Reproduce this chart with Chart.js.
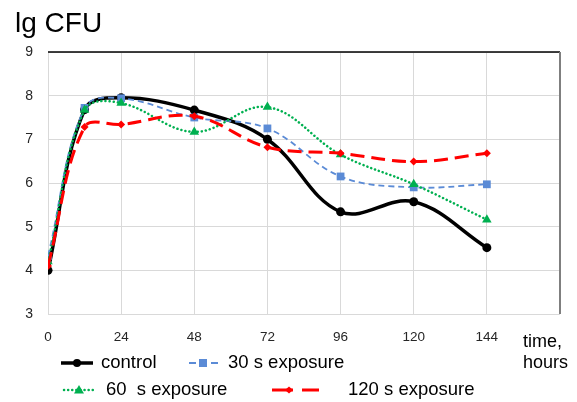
<!DOCTYPE html>
<html>
<head>
<meta charset="utf-8">
<script src="https://cdn.jsdelivr.net/npm/chart.js@4/dist/chart.umd.min.js"></script>
<style>
html,body{margin:0;padding:0;background:#fff;}
#wrap{position:relative;width:577px;height:402px;}
canvas{display:block;}
</style>
</head>
<body>
<div id="wrap"><canvas id="c" width="577" height="402"></canvas></div>
<script>
const hours = [0, 12, 24, 48, 72, 96, 120, 144];
const control = [4.0, 7.68, 7.95, 7.67, 7.0, 5.34, 5.57, 4.52];
const exp30 = [4.33, 7.72, 7.94, 7.5, 7.25, 6.15, 5.9, 5.97];
const exp60 = [4.2, 7.67, 7.83, 7.17, 7.74, 6.65, 5.97, 5.16];
const exp120 = [4.1, 7.28, 7.34, 7.53, 6.82, 6.68, 6.49, 6.68];
const xTicks = [0, 24, 48, 72, 96, 120, 144];
const yTicks = [3, 4, 5, 6, 7, 8, 9];
const seriesNames = ['control', '30 s exposure', '60  s exposure', '120 s exposure'];
const yTitle = 'lg CFU';
const xTitle = ['time,', 'hours'];

const FONT = '"Liberation Sans", Arial, sans-serif';
const toPts = arr => hours.map((h, i) => ({x: h, y: arr[i]}));

const extras = {
  id: 'extras',
  afterDraw(chart) {
    const ctx = chart.ctx;
    const a = chart.chartArea;
    ctx.save();
    ctx.strokeStyle = '#000';
    ctx.lineWidth = 1.5;
    ctx.beginPath(); ctx.moveTo(a.left, a.top); ctx.lineTo(a.right, a.top); ctx.stroke();
    ctx.strokeStyle = '#7f7f7f';
    ctx.lineWidth = 2;
    ctx.beginPath(); ctx.moveTo(a.right, a.top); ctx.lineTo(a.right, a.bottom); ctx.stroke();

    ctx.fillStyle = '#000';
    ctx.textBaseline = 'alphabetic';
    ctx.textAlign = 'left';
    ctx.font = '28px ' + FONT;
    ctx.fillText(yTitle, 15, 32);
    ctx.textBaseline = 'middle';
    ctx.font = '18px ' + FONT;
    ctx.fillText(xTitle[0], 523, 342);
    ctx.fillText(xTitle[1], 523, 363);

    const ds = chart.data.datasets;
    ctx.font = '18.5px ' + FONT;
    let y = 363;
    ctx.setLineDash([]);
    ctx.strokeStyle = ds[0].borderColor; ctx.lineWidth = 3.5; ctx.lineCap = 'butt';
    ctx.beginPath(); ctx.moveTo(61, y); ctx.lineTo(93, y); ctx.stroke();
    ctx.fillStyle = ds[0].borderColor;
    ctx.beginPath(); ctx.arc(77, y, 4, 0, Math.PI * 2); ctx.fill();
    ctx.fillStyle = '#000';
    ctx.fillText(ds[0].label, 101, y);
    ctx.strokeStyle = ds[1].borderColor; ctx.lineWidth = 1.8;
    ctx.beginPath(); ctx.moveTo(189, y); ctx.lineTo(196, y); ctx.moveTo(211, y); ctx.lineTo(218, y); ctx.stroke();
    ctx.fillStyle = ds[1].borderColor;
    ctx.fillRect(199, y - 4, 8, 8);
    ctx.fillStyle = '#000';
    ctx.fillText(ds[1].label, 228, y);
    y = 390;
    ctx.strokeStyle = ds[2].borderColor; ctx.lineWidth = 2.5; ctx.lineCap = 'round';
    ctx.setLineDash([0.1, 4]);
    ctx.beginPath(); ctx.moveTo(64, y); ctx.lineTo(94, y); ctx.stroke();
    ctx.setLineDash([]); ctx.lineCap = 'butt';
    ctx.fillStyle = ds[2].borderColor;
    ctx.beginPath(); ctx.moveTo(79, y - 5); ctx.lineTo(84, y + 3.5); ctx.lineTo(74, y + 3.5); ctx.closePath(); ctx.fill();
    ctx.fillStyle = '#000';
    ctx.fillText(ds[2].label, 106, y);
    ctx.strokeStyle = ds[3].borderColor; ctx.lineWidth = 3;
    ctx.beginPath(); ctx.moveTo(272, y); ctx.lineTo(293, y); ctx.moveTo(302, y); ctx.lineTo(319, y); ctx.stroke();
    ctx.fillStyle = ds[3].borderColor;
    ctx.beginPath(); ctx.moveTo(289 - 4, y); ctx.lineTo(289, y - 3.5); ctx.lineTo(289 + 4, y); ctx.lineTo(289, y + 3.5); ctx.closePath(); ctx.fill();
    ctx.fillStyle = '#000';
    ctx.fillText(ds[3].label, 348, y);
    ctx.restore();
  }
};

new Chart(document.getElementById('c'), {
  type: 'line',
  data: {
    datasets: [
      {label: seriesNames[0], data: toPts(control), borderColor: '#000000', backgroundColor: '#000000',
       borderWidth: 3.5, pointStyle: 'circle', pointRadius: 4.5, pointBorderWidth: 0, tension: 0.38, order: 3},
      {label: seriesNames[1], data: toPts(exp30), borderColor: '#5b8bd6', backgroundColor: '#5b8bd6',
       borderWidth: 1.8, borderDash: [6, 4], pointStyle: 'rect', pointRadius: 5.5, pointBorderWidth: 0, tension: 0.38, order: 2},
      {label: seriesNames[2], data: toPts(exp60), borderColor: '#00b050', backgroundColor: '#00b050',
       borderWidth: 2.5, borderDash: [0.1, 4], borderCapStyle: 'round', pointStyle: 'triangle', pointRadius: 5.5, pointBorderWidth: 0, tension: 0.38, order: 1},
      {label: seriesNames[3], data: toPts(exp120), borderColor: '#ff0000', backgroundColor: '#ff0000',
       borderWidth: 3, borderDash: [14, 7], pointStyle: 'rectRot', pointRadius: 4, pointBorderWidth: 0, tension: 0.38, order: 0}
    ]
  },
  options: {
    responsive: false,
    animation: false,
    devicePixelRatio: 1,
    layout: {padding: {top: 52, right: 17, left: 0, bottom: 0}},
    plugins: {legend: {display: false}, tooltip: {enabled: false}, title: {display: false}},
    scales: {
      x: {
        type: 'linear', min: 0, max: 168,
        afterBuildTicks: s => { s.ticks = xTicks.concat([168]).map(v => ({value: v})); },
        afterFit: s => { s.height = 88; },
        ticks: {padding: 15, color: '#262626', font: {family: FONT, size: 13.5}, maxRotation: 0, autoSkip: false,
                callback: v => xTicks.includes(v) ? String(v) : ''},
        grid: {color: '#d9d9d9', lineWidth: 1, drawTicks: false},
        border: {display: false}
      },
      y: {
        min: 3, max: 9,
        afterBuildTicks: s => { s.ticks = yTicks.map(v => ({value: v})); },
        afterFit: s => { s.width = 48; },
        ticks: {padding: 15, color: '#262626', font: {family: FONT, size: 14}},
        grid: {color: '#d9d9d9', lineWidth: 1, drawTicks: false},
        border: {display: false}
      }
    }
  },
  plugins: [extras]
});
</script>
</body>
</html>
